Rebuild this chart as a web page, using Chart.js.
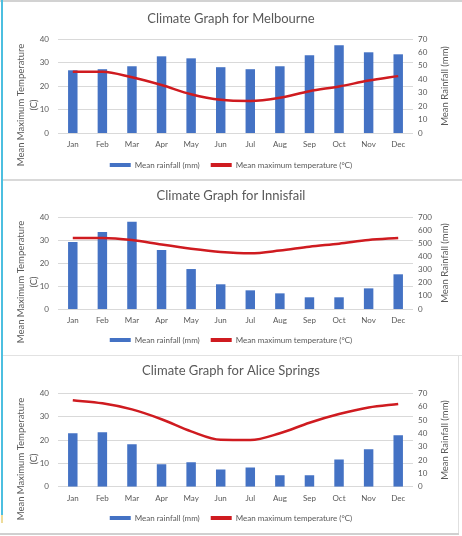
<!DOCTYPE html>
<html><head><meta charset="utf-8">
<script src="https://cdn.jsdelivr.net/npm/chart.js@4.4.0/dist/chart.umd.min.js"></script>
<style>
html,body{margin:0;padding:0;background:#fff;width:462px;height:536px;overflow:hidden;}
body{position:relative;font-family:Lato,sans-serif;}
.box{position:absolute;left:3px;width:456px;}
.deco{position:absolute;}
</style></head><body>
<div class="deco" style="left:0;top:0;width:462px;height:2px;background:#d2d2d2"></div>
<div class="deco" style="left:1px;top:0;width:2px;height:515px;background:#4cbfe0"></div>
<div class="deco" style="left:1px;top:515px;width:2px;height:8px;background:#eedc9a"></div>
<div class="deco" style="left:3px;top:179px;width:459px;height:2px;background:#d9d9d9"></div>
<div class="deco" style="left:3px;top:355px;width:459px;height:1px;background:#e2e2e2"></div>
<div class="deco" style="left:458px;top:356px;width:1px;height:178px;background:#e0e0e0"></div>
<div class="deco" style="left:0;top:533px;width:459px;height:2px;background:#d0d0d0"></div>
<div class="box" style="top:3px;height:176px"><canvas id="c1"></canvas></div>
<div class="box" style="top:182px;height:172px"><canvas id="c2"></canvas></div>
<div class="box" style="top:356px;height:176px"><canvas id="c3"></canvas></div>
<script>
const months = ['Jan','Feb','Mar','Apr','May','Jun','Jul','Aug','Sep','Oct','Nov','Dec'];
const melbourneRain = [46.7, 47.5, 49.7, 57.1, 55.6, 49.0, 47.5, 49.7, 57.9, 65.3, 60.1, 58.6];
const melbourneTemp = [26.1, 26.1, 23.7, 20.4, 16.5, 14.1, 13.6, 15.0, 17.8, 19.8, 22.3, 24.2];
const innisfailRain = [510, 586, 664, 449, 304, 188, 142, 119, 89, 89, 157, 264];
const innisfailTemp = [30.9, 30.9, 30.0, 28.0, 26.2, 24.8, 24.2, 25.4, 27.1, 28.4, 30.0, 30.9];
const aliceRain = [40.0, 40.8, 31.8, 16.8, 18.3, 12.8, 14.3, 8.5, 8.5, 20.3, 28.0, 38.5];
const aliceTemp = [37.0, 35.7, 33.1, 28.9, 23.7, 20.1, 20.0, 22.9, 27.4, 31.1, 33.9, 35.4];
const tempAxis = {min: 0, max: 40, step: 10};
const melbourneRainAxis = {min: 0, max: 70, step: 10};
const innisfailRainAxis = {min: 0, max: 700, step: 100};
const aliceRainAxis = {min: 0, max: 70, step: 10};
const leftAxisTitle = ['Mean Maximum Temperature', '(C)'];
const rightAxisTitle = 'Mean Rainfall (mm)';
const rainLabel = 'Mean rainfall (mm)';
const tempLabel = 'Mean maximum temperature (°C)';

const GREY = '#595959';
Chart.defaults.font.family = 'Lato, "Open Sans", sans-serif';
Chart.defaults.color = GREY;

const axisTitles = {
  id: 'axisTitles',
  afterDraw(chart) {
    const {ctx, chartArea: a} = chart;
    const cy = (a.top + a.bottom) / 2;
    ctx.save();
    ctx.fillStyle = GREY;
    ctx.font = '9.5px Lato, sans-serif';
    ctx.textAlign = 'center';
    ctx.textBaseline = 'middle';
    ctx.save();
    ctx.translate(18, cy + 19);
    ctx.rotate(-Math.PI / 2);
    ctx.fillText(leftAxisTitle[0], 0, 0);
    ctx.fillText(leftAxisTitle[1], 0, 13);
    ctx.restore();
    ctx.save();
    ctx.translate(chart.width - 14, cy);
    ctx.rotate(-Math.PI / 2);
    ctx.fillText(rightAxisTitle, 0, 0);
    ctx.restore();
    ctx.restore();
  }
};

const LEG_PAD = 11;

function makeChart(id, title, rain, temp, rainAxis, g) {
  const H = g.H;
  const titlePadTop = g.titleY - 7.8;
  const titlePadBottom = g.top - titlePadTop - 15.6;
  const legendHeight = 8 + LEG_PAD + 10;
  const xHeight = H - legendHeight - g.bottom;
  return new Chart(document.getElementById(id), {
    data: {
      labels: months,
      datasets: [
        {type: 'bar', label: rainLabel, data: rain, yAxisID: 'yR', backgroundColor: '#4472C4',
         borderWidth: 0, categoryPercentage: 0.8, barPercentage: 0.4, order: 1},
        {type: 'line', label: tempLabel, data: temp, yAxisID: 'yT', borderColor: '#cf1b20',
         backgroundColor: '#cf1b20', borderWidth: 2.5, pointRadius: 0,
         cubicInterpolationMode: 'monotone', order: 0}
      ]
    },
    options: {
      responsive: true, maintainAspectRatio: false, animation: false,
      layout: {padding: 0},
      plugins: {
        title: {display: true, text: title, color: GREY,
                font: {size: 13, weight: 'normal'},
                padding: {top: titlePadTop, bottom: titlePadBottom}},
        legend: {position: 'bottom',
          labels: {boxWidth: 21, boxHeight: 4, padding: LEG_PAD, color: GREY, font: {size: 8},
            sort: (a, b) => a.datasetIndex - b.datasetIndex,
            generateLabels(chart) {
              const items = Chart.defaults.plugins.legend.labels.generateLabels(chart);
              items.forEach(it => { it.lineWidth = 0; });
              return items;
            }}},
        tooltip: {enabled: false}
      },
      scales: {
        x: {grid: {display: false, drawTicks: false}, border: {display: false},
            ticks: {color: GREY, font: {size: 8}, padding: 6.5, maxRotation: 0, autoSkip: false},
            afterFit(s) { s.height = xHeight; }},
        yT: {position: 'left', min: tempAxis.min, max: tempAxis.max,
             ticks: {stepSize: tempAxis.step, padding: 9, color: GREY, font: {size: 8}},
             grid: {color: '#d9d9d9', drawTicks: false, lineWidth: 1}, border: {display: false},
             afterFit(s) { s.width = 55; }},
        yR: {position: 'right', min: rainAxis.min, max: rainAxis.max,
             ticks: {stepSize: rainAxis.step, padding: 5, color: GREY, font: {size: 8}},
             grid: {display: false, drawTicks: false}, border: {display: false},
             afterFit(s) { s.width = 46; }}
      }
    },
    plugins: [axisTitles]
  });
}

makeChart('c1', 'Climate Graph for Melbourne', melbourneRain, melbourneTemp, melbourneRainAxis,
  {H: 176, titleY: 16, top: 36, bottom: 130});
makeChart('c2', 'Climate Graph for Innisfail', innisfailRain, innisfailTemp, innisfailRainAxis,
  {H: 172, titleY: 14, top: 35, bottom: 127});
makeChart('c3', 'Climate Graph for Alice Springs', aliceRain, aliceTemp, aliceRainAxis,
  {H: 176, titleY: 15, top: 37.3, bottom: 130.7});
</script>
</body></html>
